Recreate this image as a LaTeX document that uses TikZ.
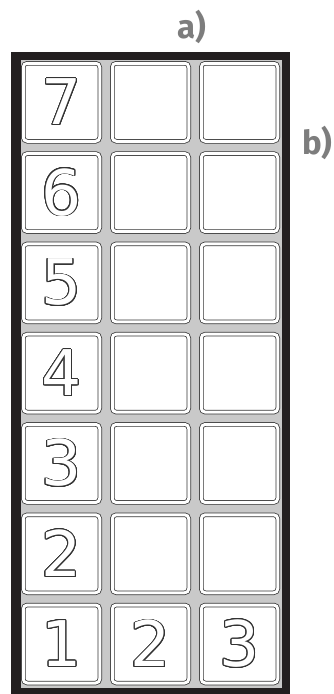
\documentclass[tikz,border=0pt]{standalone}
\usepackage{fontspec}
\usepackage[copies]{contour}
\newfontfamily\digfont{DejaVu Sans}
\newfontfamily\lblfont{Fira Sans}
\definecolor{frameblack}{HTML}{231F20}
\definecolor{gridgray}{HTML}{C9C9C9}
\definecolor{lblgray}{HTML}{7D7D7D}
\definecolor{cellline}{HTML}{333333}
\contourlength{0.9pt}
\contournumber{24}
\newcommand{\dig}[1]{\contour{cellline}{\textcolor{white}{#1}}}
\tikzset{
  cell/.style={draw=cellline, line width=0.75pt, double=white, double distance=3pt,
    rounded corners=4pt, fill=white, minimum width=76.5pt, minimum height=78pt,
    inner sep=0pt, font=\digfont\fontsize{63}{63}\selectfont},
  lbl/.style={text=lblgray, font=\lblfont\bfseries\fontsize{33}{33}\selectfont, inner sep=0pt}
}
\begin{document}
\begin{tikzpicture}[x=1pt,y=-1pt]
\useasboundingbox (0,0) rectangle (333,694);
\fill[white] (0,0) rectangle (333,694);
% frame
\fill[frameblack] (11,52) rectangle (290,694);
\fill[gridgray] (20.5,60) rectangle (281.5,687.5);
% labels
\node[lbl] (la) at (192,27) {a)};
\node[lbl, anchor=west] (lb) at (302,143) {b)};
% cells
\foreach \r [count=\j from 0] in {7,6,5,4,3,2} {
  \node[cell] (c\r-1) at (61.5,{102.25+90.3*\j}) {\dig{\r}};
  \node[cell] (c\r-2) at (150.5,{102.25+90.3*\j}) {};
  \node[cell] (c\r-3) at (239.5,{102.25+90.3*\j}) {};
}
\node[cell] (c1-1) at (61.5,644) {\dig{1}};
\node[cell] (c1-2) at (150.5,644) {\dig{2}};
\node[cell] (c1-3) at (239.5,644) {\dig{3}};
\end{tikzpicture}
\end{document}
